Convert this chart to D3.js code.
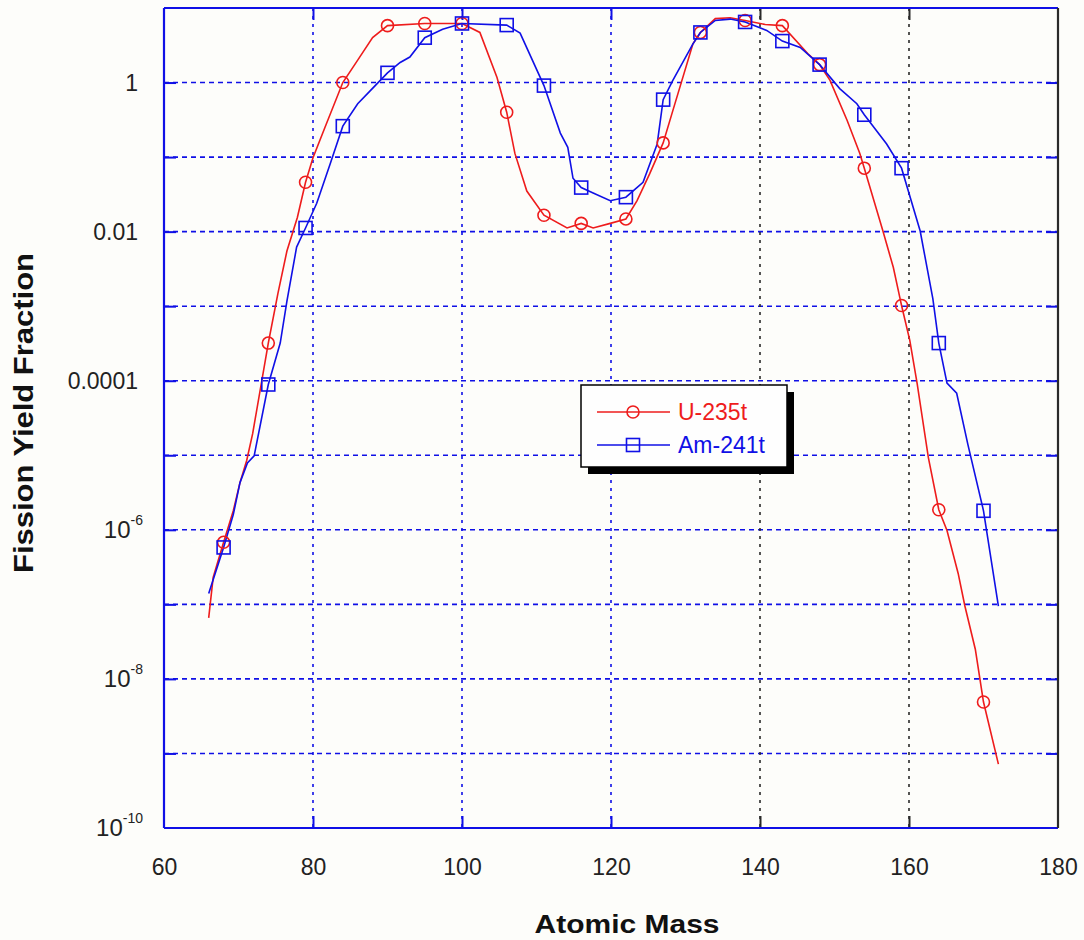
<!DOCTYPE html>
<html>
<head>
<meta charset="utf-8">
<script src="https://cdn.jsdelivr.net/npm/d3@7"></script>
<style>
  html, body { margin: 0; padding: 0; background: #fdfdfa; }
  svg { display: block; }
  text { font-family: "Liberation Sans", Arial, sans-serif; }
</style>
</head>
<body>
<svg id="chart" width="1084" height="940"></svg>
<script>
// ---------------- data ----------------
const seriesNames = ["U-235t", "Am-241t"];

const uLineMass  = [66, 66.6, 68, 69.3, 70.2, 71.1, 71.9, 74, 75.3, 76.5, 77.9, 79, 80, 81.6, 84, 86, 88, 90, 95, 100,
  102.4, 104.7, 106, 107.1, 108.7, 111, 114.1, 116, 117.6, 119.9, 122, 123.5, 125.2, 127, 128.3, 131, 132, 134, 136, 138,
  140.7, 143, 146.4, 148, 149.4, 151.7, 153.4, 154, 156.5, 157.9, 158.8, 159, 160.1, 161.1, 162.6, 164, 165.1, 166.6,
  167.5, 168.9, 170, 172];
const uLineYield = [6.6e-8, 2.3e-7, 6.8e-7, 1.8e-6, 4.3e-6, 8.5e-6, 1.95e-5, 3.2e-4, 1.5e-3, 5.5e-3, 0.0155, 0.046, 0.098, 0.25, 1.0, 2.0, 4.0, 5.8, 6.2, 6.2,
  4.7, 1.17, 0.40, 0.112, 0.035, 0.0166, 0.0112, 0.0129, 0.0112, 0.0129, 0.0148, 0.026, 0.060, 0.155, 0.42, 3.3, 4.7, 7.2, 7.4, 6.8,
  6.0, 5.8, 2.45, 1.74, 1.07, 0.31, 0.112, 0.071, 0.0102, 3.3e-3, 1.26e-3, 1.02e-3, 3.5e-4, 9.1e-5, 9.3e-6, 1.86e-6, 9.8e-7, 2.6e-7,
  9.5e-8, 2.5e-8, 4.9e-9, 7.2e-10];

const amLineMass  = [66, 68, 69.3, 70.2, 71.2, 72.1, 74, 75.6, 76.5, 77.8, 79, 80.5, 82.3, 84, 86, 87.7, 90, 91.7, 93, 95, 97.4, 100,
  106, 107.8, 111, 113.2, 114.2, 114.9, 116, 117.6, 119.9, 122, 124.3, 126.2, 127, 128.3, 131, 132, 134, 136, 138,
  140.9, 143, 145.4, 148, 150.7, 153, 154, 157, 159, 161.5, 163.2, 164, 165.1, 166.4, 167.9, 170, 172];
const amLineYield = [1.4e-7, 5.8e-7, 1.6e-6, 4.3e-6, 7.9e-6, 9.8e-6, 8.9e-5, 3.2e-4, 1.17e-3, 6.2e-3, 0.0112, 0.024, 0.081, 0.26, 0.52, 0.78, 1.35, 1.86, 2.2, 4.0, 5.2, 6.2,
  5.9, 4.6, 0.91, 0.21, 0.135, 0.052, 0.039, 0.033, 0.026, 0.029, 0.046, 0.15, 0.59, 1.07, 3.3, 4.7, 6.8, 7.1, 6.5,
  5.0, 3.6, 2.95, 1.74, 0.83, 0.52, 0.37, 0.15, 0.071, 0.0102, 1.26e-3, 3.2e-4, 9.3e-5, 6.8e-5, 1.4e-5, 1.8e-6, 9.5e-8];

const markerMass    = [68, 74, 79, 84, 90, 95, 100, 106, 111, 116, 122, 127, 132, 138, 143, 148, 154, 159, 164, 170];
const uMarkerYield  = [6.8e-7, 3.2e-4, 0.046, 1.0, 5.8, 6.2, 6.2, 0.40, 0.0166, 0.0129, 0.0148, 0.155, 4.7, 6.8, 5.8, 1.74, 0.071, 1.02e-3, 1.86e-6, 4.9e-9];
const amMarkerYield = [5.8e-7, 8.9e-5, 0.0112, 0.26, 1.35, 4.0, 6.2, 5.9, 0.91, 0.039, 0.029, 0.59, 4.7, 6.5, 3.6, 1.74, 0.37, 0.071, 3.2e-4, 1.8e-6];

const xTicks = [60, 80, 100, 120, 140, 160, 180];
const yGridValues = [1e-10, 1e-9, 1e-8, 1e-7, 1e-6, 1e-5, 1e-4, 1e-3, 1e-2, 1e-1, 1, 10];
const yLabelValues = [1, 1e-2, 1e-4, 1e-6, 1e-8, 1e-10];
const yLabelBase = ["1", "0.01", "0.0001", "10", "10", "10"];
const yLabelSup  = ["", "", "", "-6", "-8", "-10"];

// ---------------- layout ----------------
const BLUE = "#1010e6", RED = "#ee1c1c", DARK = "#2a2a2a";
const svg = d3.select("#chart");
const x = d3.scaleLinear().domain([60, 180]).range([164, 1058]);
const y = d3.scaleLog().domain([1e-10, 10]).range([828, 8]);
const L = x.range()[0], R = x.range()[1], T = y.range()[1], B = y.range()[0];

// grid
const grid = svg.append("g");
grid.selectAll("line.h").data(yGridValues.filter(v => v > 1e-10 && v < 10)).join("line")
  .attr("x1", L).attr("x2", R).attr("y1", d => y(d)).attr("y2", d => y(d))
  .attr("stroke", BLUE).attr("stroke-width", 1.6).attr("stroke-dasharray", "5,4");
grid.selectAll("line.v").data(xTicks.filter(v => v > 60 && v < 180)).join("line")
  .attr("x1", d => x(d)).attr("x2", d => x(d)).attr("y1", T).attr("y2", B)
  .attr("stroke", d => d >= 140 ? DARK : BLUE).attr("stroke-width", 1.6).attr("stroke-dasharray", "3,5");

// axes (inward ticks)
const xAxisB = d3.axisBottom(x).tickValues(xTicks).tickSize(-12).tickPadding(31).tickFormat(d3.format("d"));
const gxb = svg.append("g").attr("transform", `translate(0,${B})`).call(xAxisB);
gxb.select(".domain").remove();
gxb.selectAll(".tick line").attr("stroke", d => d >= 140 ? DARK : BLUE).attr("stroke-width", 2)
  .attr("display", d => (d === 60 || d === 180) ? "none" : null);
gxb.selectAll(".tick text").attr("fill", "#222").attr("font-size", 23)
  .attr("font-family", "'Liberation Sans', Arial, sans-serif");

const xAxisT = d3.axisTop(x).tickValues(xTicks.filter(v => v > 60 && v < 180)).tickSize(-12).tickFormat("");
const gxt = svg.append("g").attr("transform", `translate(0,${T})`).call(xAxisT);
gxt.select(".domain").remove();
gxt.selectAll(".tick line").attr("stroke", d => d >= 140 ? DARK : BLUE).attr("stroke-width", 2);

const yAxisL = d3.axisLeft(y).tickValues(yGridValues.filter(v => v > 1e-10 && v < 10)).tickSize(-12).tickFormat("");
const gyl = svg.append("g").attr("transform", `translate(${L},0)`).call(yAxisL);
gyl.select(".domain").remove();
gyl.selectAll(".tick line").attr("stroke", BLUE).attr("stroke-width", 2);

const yAxisR = d3.axisRight(y).tickValues(yGridValues.filter(v => v > 1e-10 && v < 10)).tickSize(-12).tickFormat("");
const gyr = svg.append("g").attr("transform", `translate(${R},0)`).call(yAxisR);
gyr.select(".domain").remove();
gyr.selectAll(".tick line").attr("stroke", BLUE).attr("stroke-width", 2);

// y labels
const yl = svg.append("g").attr("font-size", 23).attr("fill", "#222");
yLabelValues.forEach((v, i) => {
  const t = yl.append("text").attr("text-anchor", "end").attr("fill", "#222");
  if (yLabelSup[i]) {
    t.attr("x", 143).attr("y", y(v) + 8);
    t.append("tspan").text(yLabelBase[i]).attr("font-size", 24);
    t.append("tspan").text(yLabelSup[i]).attr("font-size", 14).attr("dy", -13);
  } else {
    t.attr("x", 138).attr("y", y(v) + 8).text(yLabelBase[i]);
  }
});

// frame
svg.append("line").attr("x1", L).attr("x2", L).attr("y1", T).attr("y2", B).attr("stroke", BLUE).attr("stroke-width", 2.2);
svg.append("line").attr("x1", L).attr("x2", R).attr("y1", T).attr("y2", T).attr("stroke", BLUE).attr("stroke-width", 2.2);
svg.append("line").attr("x1", L).attr("x2", R).attr("y1", B).attr("y2", B).attr("stroke", BLUE).attr("stroke-width", 2.2);
svg.append("line").attr("x1", R).attr("x2", R).attr("y1", T).attr("y2", B).attr("stroke", DARK).attr("stroke-width", 2.2);

// lines
const line = d3.line().x(d => x(d[0])).y(d => y(d[1]));
const uLine = uLineMass.map((m, i) => [m, uLineYield[i]]);
const amLine = amLineMass.map((m, i) => [m, amLineYield[i]]);
svg.append("path").attr("d", line(uLine)).attr("fill", "none").attr("stroke", RED).attr("stroke-width", 1.6);
svg.append("path").attr("d", line(amLine)).attr("fill", "none").attr("stroke", BLUE).attr("stroke-width", 1.6);

// markers
svg.append("g").selectAll("circle").data(markerMass.map((m, i) => [m, uMarkerYield[i]])).join("circle")
  .attr("cx", d => x(d[0])).attr("cy", d => y(d[1])).attr("r", 6)
  .attr("fill", "none").attr("stroke", RED).attr("stroke-width", 1.6);
svg.append("g").selectAll("rect").data(markerMass.map((m, i) => [m, amMarkerYield[i]])).join("rect")
  .attr("x", d => x(d[0]) - 6.5).attr("y", d => y(d[1]) - 6.5).attr("width", 13).attr("height", 13)
  .attr("fill", "none").attr("stroke", BLUE).attr("stroke-width", 1.6);

// legend
const lg = svg.append("g");
lg.append("rect").attr("x", 588).attr("y", 392).attr("width", 206).attr("height", 82).attr("fill", "#000");
lg.append("rect").attr("x", 581).attr("y", 385).attr("width", 206).attr("height", 82)
  .attr("fill", "#fefefe").attr("stroke", "#000").attr("stroke-width", 1.5);
const rows = [{name: seriesNames[0], color: RED, yy: 412, shape: "circle"},
              {name: seriesNames[1], color: BLUE, yy: 445, shape: "square"}];
rows.forEach(r => {
  lg.append("line").attr("x1", 597).attr("x2", 670).attr("y1", r.yy).attr("y2", r.yy)
    .attr("stroke", r.color).attr("stroke-width", 1.6);
  if (r.shape === "circle") {
    lg.append("circle").attr("cx", 633).attr("cy", r.yy).attr("r", 6)
      .attr("fill", "none").attr("stroke", r.color).attr("stroke-width", 1.6);
  } else {
    lg.append("rect").attr("x", 626.5).attr("y", r.yy - 6.5).attr("width", 13).attr("height", 13)
      .attr("fill", "none").attr("stroke", r.color).attr("stroke-width", 1.6);
  }
  lg.append("text").attr("x", 678).attr("y", r.yy + 8).attr("font-size", 23)
    .attr("fill", r.color).text(r.name);
});

// titles
svg.append("text").attr("x", 627).attr("y", 933).attr("text-anchor", "middle")
  .attr("font-size", 26).attr("font-weight", "bold").attr("fill", "#111")
  .attr("textLength", 185).attr("lengthAdjust", "spacingAndGlyphs").text("Atomic Mass");
svg.append("text").attr("transform", "translate(33,413) rotate(-90)").attr("text-anchor", "middle")
  .attr("font-size", 27).attr("font-weight", "bold").attr("fill", "#111")
  .attr("textLength", 320).attr("lengthAdjust", "spacingAndGlyphs").text("Fission Yield Fraction");
</script>
</body>
</html>
